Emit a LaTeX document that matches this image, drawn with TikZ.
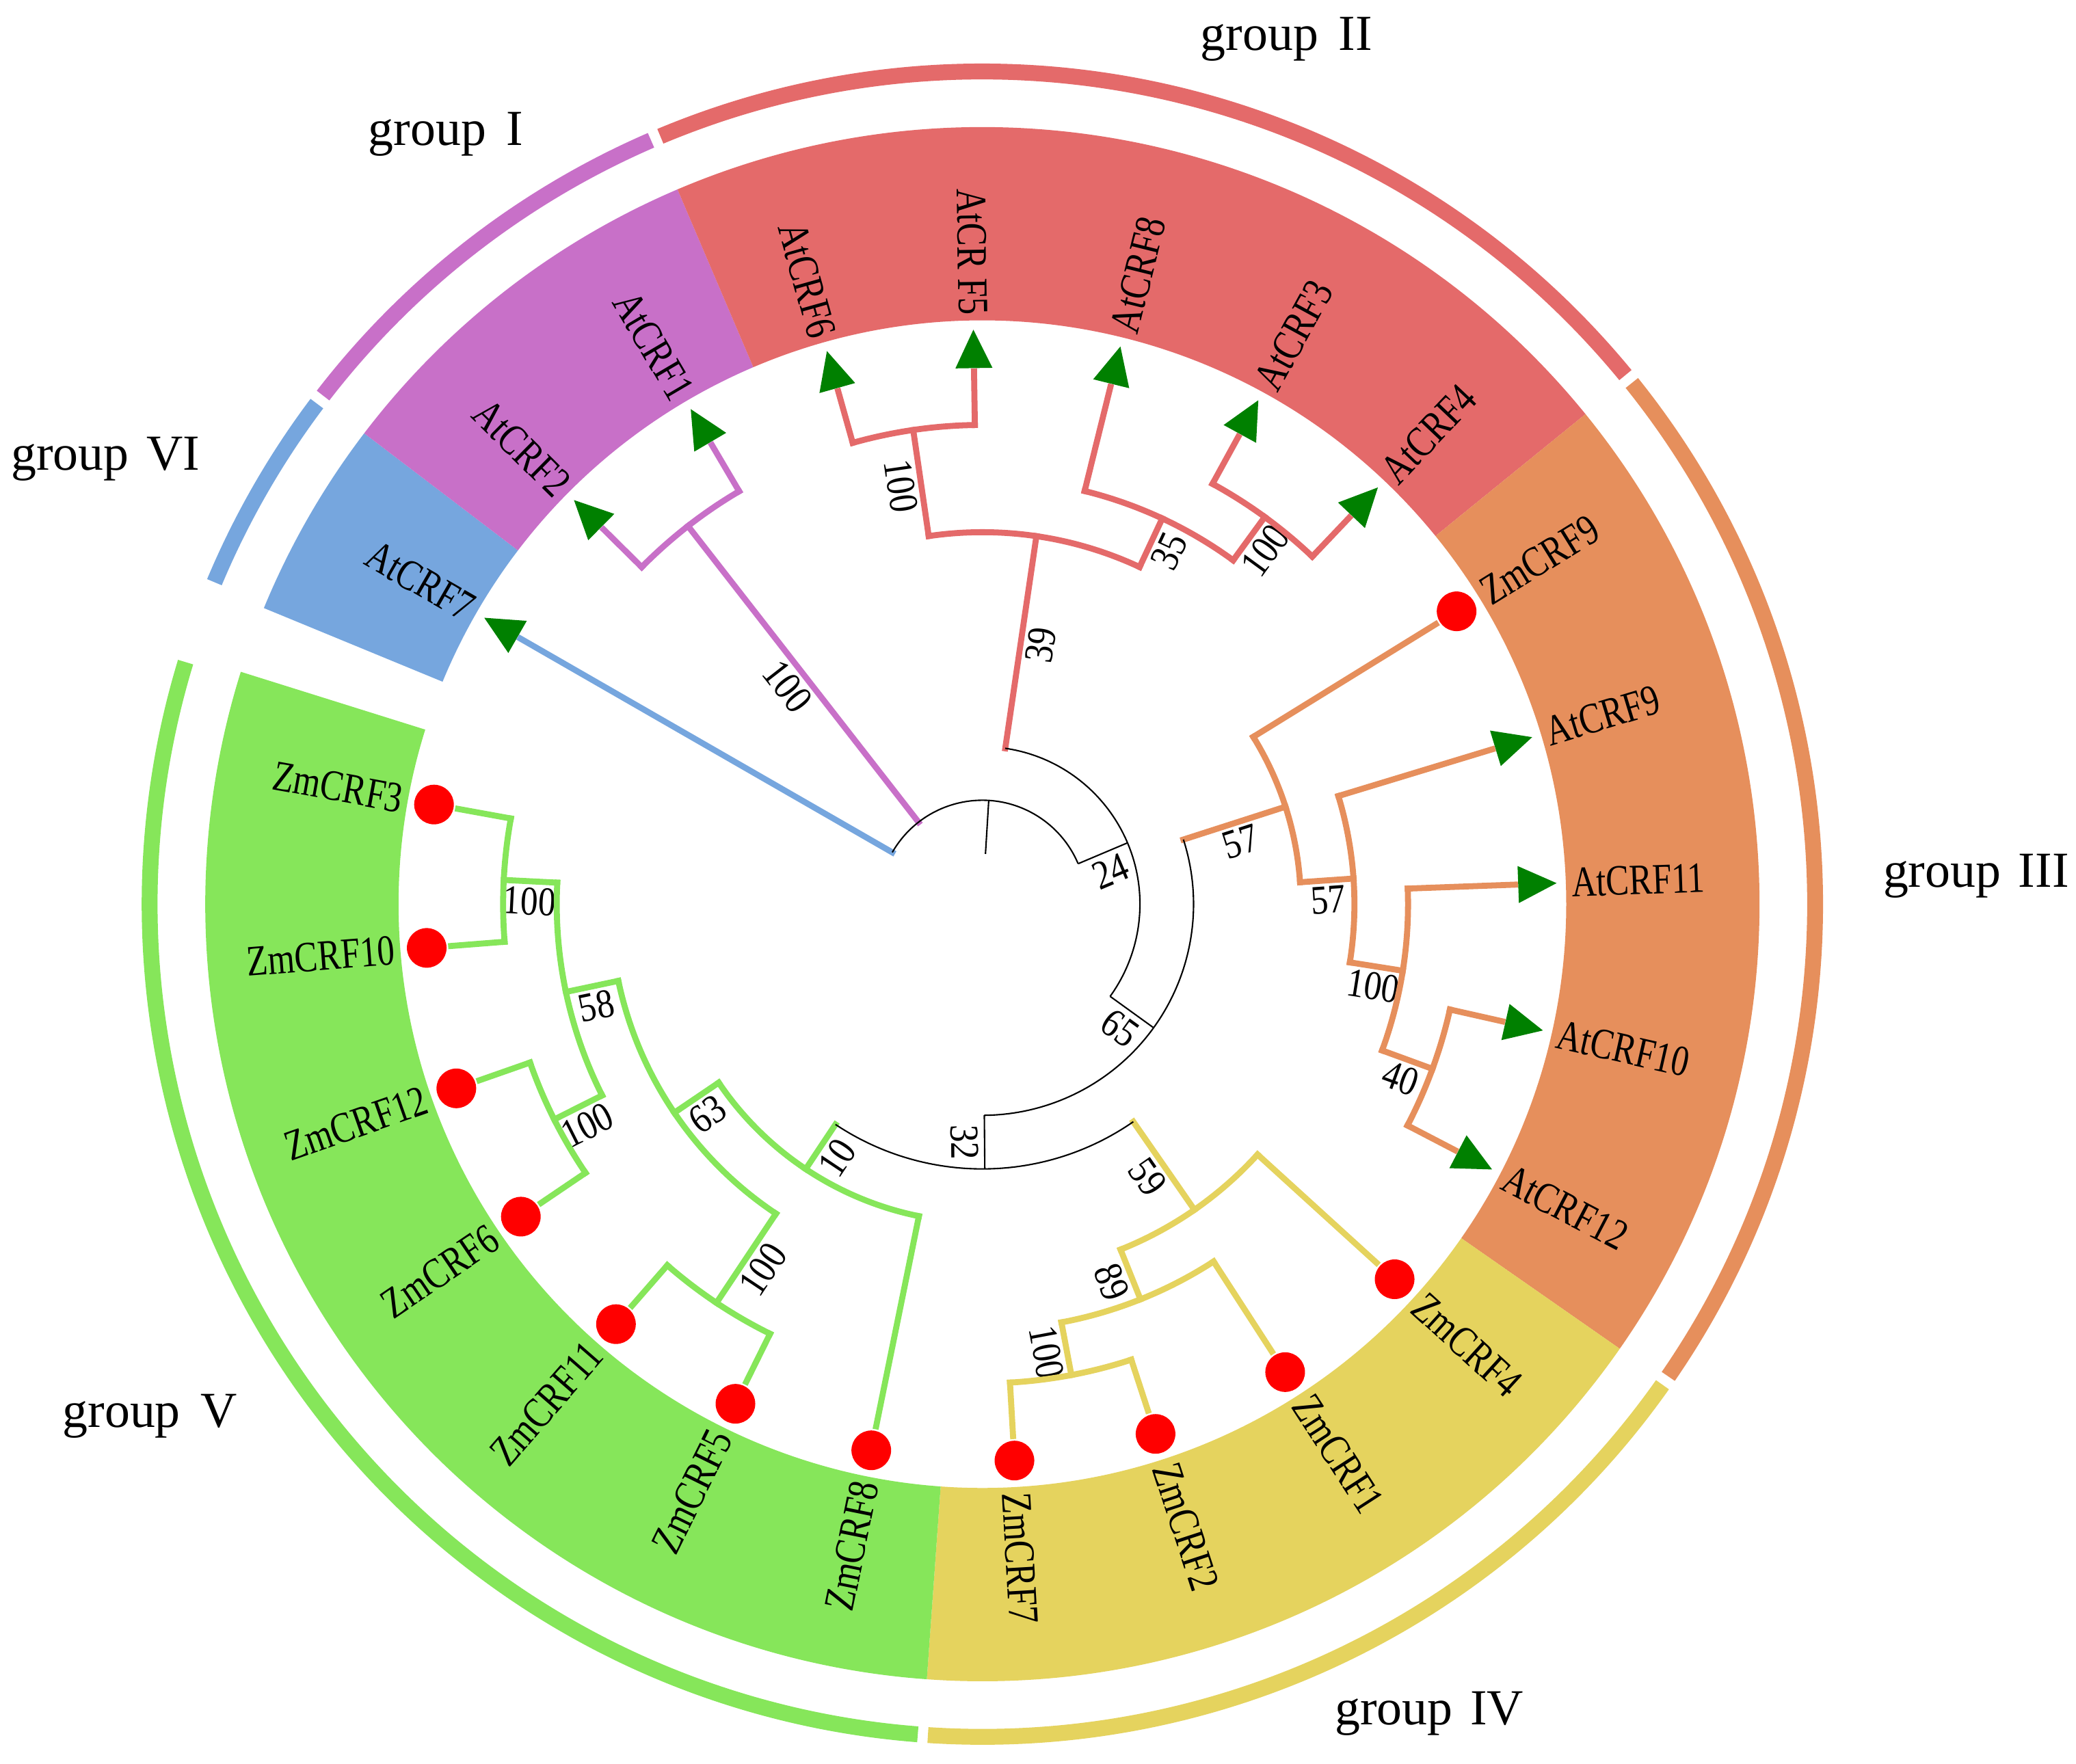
\documentclass[tikz,border=0pt]{standalone}
\usepackage{fontspec}
\setmainfont{Liberation Serif}
\newfontfamily\leaffont[FakeStretch=0.8]{Liberation Serif}
\newfontfamily\bsfont[FakeStretch=0.86]{Liberation Serif}
\definecolor{cBlue}{HTML}{76A6DE}
\definecolor{cPurple}{HTML}{C870C8}
\definecolor{cRed}{HTML}{E46A6A}
\definecolor{cOrange}{HTML}{E68F5C}
\definecolor{cYellow}{HTML}{E5D35E}
\definecolor{cGreen}{HTML}{86E65A}
\definecolor{cTri}{HTML}{008000}
\definecolor{cCirc}{HTML}{FF0000}

% coloured band sector: colour, start angle, end angle
\newcommand\mysector[3]{%
  \fill[#1] (#2:441) arc[start angle=#2, end angle=#3, radius=441] -- (#3:587) arc[start angle=#3, end angle=#2, radius=587] -- cycle;}
% outer group arc
\newcommand\mygarc[3]{\draw[garc, #1] (#2:629) arc[start angle=#2, end angle=#3, radius=629];}
% leaf: name, angle, parent radius, colour, type (0 triangle, 1 circle), label
\newcommand\myleaf[6]{%
  \coordinate (b-#1) at (#2:#3);
  \coordinate (t-#1) at (#2:402.5);
  \draw[tl, #4] (b-#1) -- (t-#1);
  \ifnum#5=0
    \fill[cTri] (#2:434) -- ({#2+1.98}:405.24) -- ({#2-1.98}:405.24) -- cycle;
  \else
    \node[circle, fill=cCirc, minimum size=16.5pt, inner sep=0pt] (m-#1) at (#2:421) {};
  \fi
  \pgfmathtruncatemacro\isleft{abs(#2)>90 ? 1 : 0}%
  \pgfmathsetmacro\lrot{abs(#2)>90 ? #2-180 : #2}%
  \ifnum\isleft=1
    \node[leafl, rotate=\lrot, anchor=east] (l-#1) at (#2:445) {#6};
  \else
    \node[leafl, rotate=\lrot, anchor=west] (l-#1) at (#2:445) {#6};
  \fi}
% internal branch: name, angle, parent radius, node radius, style, support value
\newcommand\myrad[6]{%
  \coordinate (p-#1) at (#2:#3);
  \coordinate (#1) at (#2:#4);
  \draw[#5] (p-#1) -- (#1);
  \pgfmathsetmacro\brot{abs(#2)>90 ? #2-180 : #2}%
  \pgfmathsetmacro\bmid{(#3+#4)/2}%
  \node[bslab, rotate=\brot, anchor=north] (bs-#1) at (#2:\bmid) {#6};}

\begin{document}
\begin{tikzpicture}[x=0.019362cm, y=0.019362cm,
  tl/.style={line width=2.5pt, line cap=rect},
  blk/.style={line width=0.6pt, black},
  bslab/.style={font=\bsfont\fontsize{17}{17}\selectfont, inner sep=2.4pt},
  leafl/.style={font=\leaffont\fontsize{18}{18}\selectfont, inner sep=0pt},
  grp/.style={font=\fontsize{21}{21}\selectfont, inner sep=0pt, anchor=base west},
  garc/.style={line width=6.6pt}]

\useasboundingbox (-742,-649) rectangle (826,683);

% coloured sectors
\mysector{cBlue}{142.7}{157.6}
\mysector{cPurple}{113.1}{142.7}
\mysector{cRed}{39.1}{113.1}
\mysector{cOrange}{-34.9}{39.1}
\mysector{cYellow}{-94.1}{-34.9}
\mysector{cGreen}{162.6}{265.9}

% outer group arcs
\mygarc{cBlue}{143.05}{157.25}
\mygarc{cPurple}{113.45}{142.35}
\mygarc{cRed}{39.45}{112.75}
\mygarc{cOrange}{-34.55}{38.75}
\mygarc{cYellow}{-93.75}{-35.25}
\mygarc{cGreen}{163.1}{265.55}

% group labels
\node[grp] (gII) at (164.5,645) {group\hspace{0.4em}II};
\node[grp] (gI) at (-464,573) {group\hspace{0.4em}I};
\node[grp] (gVI) at (-734,328) {group\hspace{0.35em}VI};
\node[grp] (gIII) at (680,13) {group\hspace{0.35em}III};
\node[grp] (gIV) at (266,-620) {group\hspace{0.35em}IV};
\node[grp] (gV) at (-695,-395) {group\hspace{0.4em}V};

% leaves
\myleaf{AtCRF7}{150.1}{78.5}{cBlue}{0}{AtCRF7}
\myleaf{AtCRF2}{135.3}{362}{cPurple}{0}{AtCRF2}
\myleaf{AtCRF1}{120.5}{362}{cPurple}{0}{AtCRF1}
\myleaf{AtCRF6}{105.7}{362}{cRed}{0}{AtCRF6}
\myleaf{AtCRF5}{90.9}{362}{cRed}{0}{AtCR F5}
\myleaf{AtCRF8}{76.1}{321.5}{cRed}{0}{AtCRF8}
\myleaf{AtCRF3}{61.3}{362}{cRed}{0}{AtCRF3}
\myleaf{AtCRF4}{46.5}{362}{cRed}{0}{AtCRF4}
\myleaf{ZmCRF9}{31.7}{240.5}{cOrange}{1}{ZmCRF9}
\myleaf{AtCRF9}{16.9}{281}{cOrange}{0}{AtCRF9}
\myleaf{AtCRF11}{2.1}{321.5}{cOrange}{0}{AtCRF11}
\myleaf{AtCRF10}{-12.7}{362}{cOrange}{0}{AtCRF10}
\myleaf{AtCRF12}{-27.5}{362}{cOrange}{0}{AtCRF12}
\myleaf{ZmCRF4}{-42.3}{281}{cYellow}{1}{ZmCRF4}
\myleaf{ZmCRF1}{-57.1}{321.5}{cYellow}{1}{ZmCRF1}
\myleaf{ZmCRF2}{-71.9}{362}{cYellow}{1}{ZmCRF2}
\myleaf{ZmCRF7}{-86.7}{362}{cYellow}{1}{ZmCRF7}
\myleaf{ZmCRF8}{-101.5}{240.5}{cGreen}{1}{ZmCRF8}
\myleaf{ZmCRF5}{-116.3}{362}{cGreen}{1}{ZmCRF5}
\myleaf{ZmCRF11}{-131.1}{362}{cGreen}{1}{ZmCRF11}
\myleaf{ZmCRF6}{-145.9}{362}{cGreen}{1}{ZmCRF6}
\myleaf{ZmCRF12}{-160.7}{362}{cGreen}{1}{ZmCRF12}
\myleaf{ZmCRF10}{-175.5}{362}{cGreen}{1}{ZmCRF10}
\myleaf{ZmCRF3}{-190.3}{362}{cGreen}{1}{ZmCRF3}

% root
\coordinate (rootIn) at (86.5:38);
\coordinate (root) at (86.5:78.5);
\draw[blk] (rootIn) -- (root);

% internal branches (into each node)
\myrad{P}{127.9}{78.5}{362}{tl,cPurple}{100}
\myrad{A}{22.91}{78.5}{119}{blk}{24}
\myrad{R0}{81.65}{119}{281}{tl,cRed}{39}
\myrad{R1}{98.3}{281}{362}{tl,cRed}{100}
\myrad{R2}{65.0}{281}{321.5}{tl,cRed}{35}
\myrad{R3}{53.9}{321.5}{362}{tl,cRed}{100}
\myrad{B}{-35.825}{119}{159.5}{blk}{65}
\myrad{O1}{17.825}{159.5}{240.5}{tl,cOrange}{57}
\myrad{O2}{3.95}{240.5}{281}{tl,cOrange}{57}
\myrad{O3}{-9.0}{281}{321.5}{tl,cOrange}{100}
\myrad{O4}{-20.1}{321.5}{362}{tl,cOrange}{40}
\myrad{C}{-89.475}{159.5}{200}{blk}{32}
\myrad{Y1}{-55.25}{200}{281}{tl,cYellow}{59}
\myrad{Y2}{-68.2}{281}{321.5}{tl,cYellow}{89}
\myrad{Y3}{-79.3}{321.5}{362}{tl,cYellow}{100}
\myrad{G1}{-123.7}{200}{240.5}{tl,cGreen}{10}
\myrad{G2}{-145.9}{240.5}{281}{tl,cGreen}{63}
\myrad{G3}{-168.1}{281}{321.5}{tl,cGreen}{58}
\myrad{G4}{-182.9}{321.5}{362}{tl,cGreen}{100}
\myrad{G6}{-153.3}{321.5}{362}{tl,cGreen}{100}
\myrad{G5}{-123.7}{281}{362}{tl,cGreen}{100}

% node arcs (from first child's foot to second child's foot)
\draw[blk] (b-AtCRF7) arc[start angle=150.1, end angle=22.91, radius=78.5];
\draw[blk] (p-R0) arc[start angle=81.65, end angle=-35.825, radius=119];
\draw[blk] (p-O1) arc[start angle=17.825, end angle=-89.475, radius=159.5];
\draw[blk] (p-Y1) arc[start angle=-55.25, end angle=-123.7, radius=200];
\draw[tl,cPurple] (b-AtCRF2) arc[start angle=135.3, end angle=120.5, radius=362];
\draw[tl,cRed] (p-R1) arc[start angle=98.3, end angle=65.0, radius=281];
\draw[tl,cRed] (b-AtCRF6) arc[start angle=105.7, end angle=90.9, radius=362];
\draw[tl,cRed] (b-AtCRF8) arc[start angle=76.1, end angle=53.9, radius=321.5];
\draw[tl,cRed] (b-AtCRF3) arc[start angle=61.3, end angle=46.5, radius=362];
\draw[tl,cOrange] (b-ZmCRF9) arc[start angle=31.7, end angle=3.95, radius=240.5];
\draw[tl,cOrange] (b-AtCRF9) arc[start angle=16.9, end angle=-9.0, radius=281];
\draw[tl,cOrange] (b-AtCRF11) arc[start angle=2.1, end angle=-20.1, radius=321.5];
\draw[tl,cOrange] (b-AtCRF10) arc[start angle=-12.7, end angle=-27.5, radius=362];
\draw[tl,cYellow] (b-ZmCRF4) arc[start angle=-42.3, end angle=-68.2, radius=281];
\draw[tl,cYellow] (b-ZmCRF1) arc[start angle=-57.1, end angle=-79.3, radius=321.5];
\draw[tl,cYellow] (b-ZmCRF2) arc[start angle=-71.9, end angle=-86.7, radius=362];
\draw[tl,cGreen] (b-ZmCRF8) arc[start angle=-101.5, end angle=-145.9, radius=240.5];
\draw[tl,cGreen] (p-G5) arc[start angle=-123.7, end angle=-168.1, radius=281];
\draw[tl,cGreen] (p-G6) arc[start angle=-153.3, end angle=-182.9, radius=321.5];
\draw[tl,cGreen] (b-ZmCRF10) arc[start angle=-175.5, end angle=-190.3, radius=362];
\draw[tl,cGreen] (b-ZmCRF5) arc[start angle=-116.3, end angle=-131.1, radius=362];
\draw[tl,cGreen] (b-ZmCRF6) arc[start angle=-145.9, end angle=-160.7, radius=362];
\end{tikzpicture}
\end{document}
